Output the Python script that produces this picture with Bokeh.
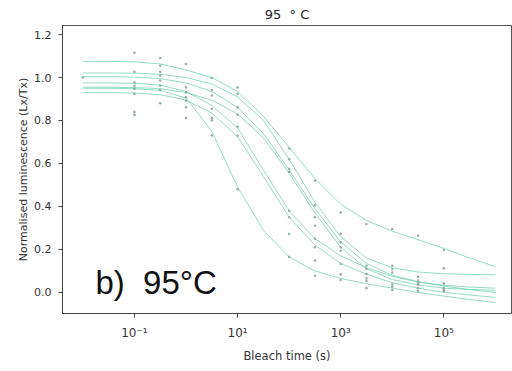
from bokeh.plotting import figure
from bokeh.models import Range1d, FixedTicker, Label, PrintfTickFormatter
from bokeh.embed import file_html
from bokeh.resources import INLINE

# Fitted curves, read at half-decade bleach times (s)
curve_times = [0.01, 0.0316, 0.1, 0.316, 1, 3.16, 10, 31.6, 100, 316,
               1000, 3162, 1e4, 31623, 1e5, 316228, 1e6]
curve_a = [1.075, 1.075, 1.073, 1.063, 1.035, 1.0, 0.935, 0.82, 0.675, 0.53,
           0.41, 0.335, 0.285, 0.245, 0.205, 0.16, 0.12]
curve_b = [0.95, 0.95, 0.948, 0.94, 0.905, 0.75, 0.49, 0.29, 0.165, 0.10,
           0.065, 0.04, 0.02, 0.0, -0.017, -0.033, -0.047]
curve_c = [0.975, 0.975, 0.973, 0.965, 0.935, 0.87, 0.765, 0.57, 0.38, 0.25,
           0.17, 0.115, 0.075, 0.048, 0.03, 0.013, 0.0]
curve_d = [0.93, 0.93, 0.928, 0.92, 0.895, 0.835, 0.725, 0.54, 0.35, 0.22,
           0.135, 0.085, 0.045, 0.02, 0.0, -0.012, -0.023]
curve_e = [1.021, 1.021, 1.02, 1.015, 1.0, 0.97, 0.91, 0.80, 0.62, 0.42,
           0.26, 0.16, 0.115, 0.095, 0.087, 0.084, 0.082]
curve_f = [1.004, 1.004, 1.002, 0.995, 0.975, 0.935, 0.86, 0.74, 0.57, 0.39,
           0.235, 0.135, 0.08, 0.05, 0.033, 0.025, 0.02]
curve_g = [0.955, 0.955, 0.953, 0.948, 0.93, 0.895, 0.83, 0.72, 0.555, 0.37,
           0.21, 0.11, 0.06, 0.035, 0.02, 0.014, 0.01]
curves = [curve_a, curve_b, curve_c, curve_d, curve_e, curve_f, curve_g]

# Measured points, grouped by bleach time (s)
point_times = [0.01, 0.1, 0.316, 1, 3.16, 10, 100, 316, 1000, 3162, 1e4, 31623, 1e5]
pts_t1 = [1.0]
pts_t2 = [1.115, 1.027, 0.978, 0.962, 0.947, 0.924, 0.84, 0.825]
pts_t3 = [1.091, 1.055, 1.027, 1.009, 0.986, 0.962, 0.942, 0.88]
pts_t4 = [1.063, 0.954, 0.931, 0.908, 0.892, 0.861, 0.812]
pts_t5 = [0.998, 0.942, 0.916, 0.854, 0.81, 0.80, 0.73]
pts_t6 = [0.954, 0.924, 0.861, 0.827, 0.771, 0.73, 0.48]
pts_t7 = [0.67, 0.62, 0.575, 0.56, 0.38, 0.35, 0.272, 0.165]
pts_t8 = [0.52, 0.405, 0.35, 0.31, 0.25, 0.21, 0.148, 0.078]
pts_t9 = [0.372, 0.273, 0.233, 0.21, 0.194, 0.132, 0.084, 0.058]
pts_t10 = [0.318, 0.124, 0.109, 0.086, 0.067, 0.055, 0.02]
pts_t11 = [0.295, 0.124, 0.108, 0.093, 0.039, 0.027, 0.011]
pts_t12 = [0.264, 0.073, 0.055, 0.042, 0.036, 0.02, 0.005]
pts_t13 = [0.197, 0.112, 0.042, 0.02, 0.011, 0.006]
point_groups = [pts_t1, pts_t2, pts_t3, pts_t4, pts_t5, pts_t6, pts_t7,
                pts_t8, pts_t9, pts_t10, pts_t11, pts_t12, pts_t13]

y_ticks = [0.0, 0.2, 0.4, 0.6, 0.8, 1.0, 1.2]
x_ticks = [0.1, 10, 1000, 1e5]
x_tick_labels = ["10⁻¹", "10¹", "10³", "10⁵"]

p = figure(width=512, height=371, x_axis_type="log",
           x_range=Range1d(0.004027, 2.05e6), y_range=Range1d(-0.098, 1.242),
           output_backend="svg", toolbar_location=None,
           min_border_left=62, min_border_right=1, min_border_top=25,
           min_border_bottom=58)

p.background_fill_color = "white"
p.border_fill_color = "white"
p.outline_line_color = "#555555"
p.xgrid.grid_line_color = None
p.ygrid.grid_line_color = None

p.title.text = "95\u00a0\u00a0°\u00a0C"
p.title.align = "center"
p.title.text_font = "DejaVu Sans"
p.title.text_font_size = "13px"
p.title.text_font_style = "normal"
p.title.text_color = "#222222"
p.title.standoff = 8

for c in curves:
    p.line(curve_times, c, line_color="#66cdaa", line_alpha=0.7, line_width=1)

for t, vals in zip(point_times, point_groups):
    p.scatter([t] * len(vals), vals, size=2.6, fill_color="#7f9e94",
              line_color=None, fill_alpha=0.8)

p.yaxis.ticker = FixedTicker(ticks=y_ticks)
p.yaxis.formatter = PrintfTickFormatter(format="%.1f")
p.xaxis.ticker = FixedTicker(ticks=x_ticks, minor_ticks=[])
p.xaxis.major_label_overrides = {t: l for t, l in zip(x_ticks, x_tick_labels)}

for ax in (p.xaxis[0], p.yaxis[0]):
    ax.axis_line_color = "#444444"
    ax.major_tick_line_color = "#444444"
    ax.minor_tick_line_color = None
    ax.major_tick_out = 4
    ax.major_tick_in = 0
    ax.major_label_text_font = "DejaVu Sans"
    ax.major_label_text_font_size = "11px"
    ax.major_label_text_color = "#333333"
    ax.axis_label_text_font = "DejaVu Sans"
    ax.axis_label_text_font_style = "normal"
    ax.axis_label_text_color = "#333333"

p.xaxis.axis_label = "Bleach time (s)"
p.yaxis.axis_label = "Normalised luminescence (Lx/Tx)"
p.xaxis.axis_label_text_font_size = "11.5px"
p.yaxis.axis_label_text_font_size = "11px"
p.xaxis.major_label_text_font_size = "12px"
p.yaxis.major_label_standoff = 7
p.xaxis.major_label_standoff = 8
p.xaxis.axis_label_standoff = 6
p.yaxis.axis_label_standoff = 1

p.add_layout(Label(x=0.0175, y=0.045, text="b)\u00a0 95°C", text_font="Liberation Sans",
                   text_font_size="33px", text_color="#111111",
                   text_baseline="alphabetic"))

open("out.html", "w").write(file_html(p, INLINE))
